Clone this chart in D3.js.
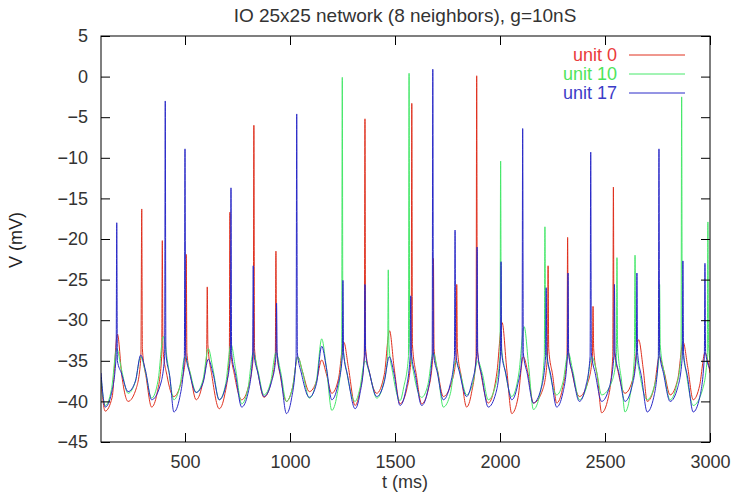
<!DOCTYPE html>
<html>
<head>
<meta charset="utf-8">
<script src="https://cdn.jsdelivr.net/npm/d3@7"></script>
<style>
  html, body { margin: 0; padding: 0; background: #fff; }
  svg { display: block; }
  text { font-family: "Liberation Sans", Arial, Helvetica, sans-serif; fill: #333; }
</style>
</head>
<body>
<svg id="chart" width="734" height="494"></svg>
<script>
// Membrane potential traces of three units, [t (ms), V (mV)]
const unit0 = [
  [100,-37.5],[120,-41.2],
  [153,-39.5],[178,-31.7],[200,-37.0],[229,-40.0],
  [269,-38.3],[290,-34.5],[294,-16.3],[297,-33.5],[316,-37.2],[341,-40.7],
  [367,-39.0],[389,-34.5],[392,-20.2],[395,-33.5],[414,-36.8],[447,-39.4],
  [481,-37.7],[503,-34.5],[506,-21.9],[509,-34.0],[528,-37.0],[553,-39.8],
  [581,-38.1],[603,-34.5],[606,-25.9],[609,-33.0],[628,-36.8],[663,-40.9],
  [689,-39.2],[711,-34.5],[714,-16.7],[717,-33.5],[736,-36.8],[770,-39.8],
  [803,-38.1],[825,-34.5],[828,-6.0],[831,-33.5],[850,-36.8],[876,-39.5],
  [908,-37.8],[930,-34.5],[933,-21.5],[936,-33.5],[955,-37.0],[983,-40.0],
  [1012,-38.3],[1037,-34.5],[1059,-36.3],[1092,-38.8],
  [1126,-37.5],[1151,-34.9],[1173,-36.6],[1199,-39.0],
  [1231,-37.2],[1256,-32.7],[1278,-35.8],[1310,-40.5],
  [1332,-38.8],[1354,-34.5],[1357,-5.2],[1360,-33.5],[1379,-36.5],[1413,-39.0],
  [1449,-36.7],[1474,-31.3],[1496,-35.9],[1524,-40.3],
  [1555,-38.6],[1577,-34.5],[1580,-3.3],[1583,-33.0],[1602,-36.8],[1627,-40.3],
  [1658,-38.6],[1680,-34.5],[1683,-22.4],[1686,-33.5],[1705,-36.5],[1730,-39.4],
  [1769,-37.7],[1791,-34.5],[1794,-25.6],[1797,-33.5],[1816,-37.0],[1841,-40.7],
  [1864,-39.0],[1886,-34.5],[1889,0.1],[1892,-33.5],[1911,-36.8],[1944,-40.2],
  [1985,-36.5],[2010,-30.3],[2032,-36.0],[2056,-41.5],
  [2086,-39.5],[2111,-34.5],[2133,-36.5],[2159,-40.2],
  [2204,-38.5],[2226,-34.5],[2229,-23.3],[2232,-33.5],[2251,-36.8],[2270,-40.2],
  [2297,-38.5],[2319,-34.5],[2322,-19.8],[2325,-33.5],[2344,-36.5],[2378,-39.4],
  [2418,-37.7],[2440,-34.5],[2443,-28.3],[2446,-33.5],[2465,-37.2],[2484,-41.4],
  [2515,-39.6],[2537,-34.5],[2540,-13.6],[2543,-33.5],[2562,-36.3],[2595,-39.0],
  [2635,-37.0],[2660,-32.4],[2682,-36.0],[2701,-40.0],
  [2734,-38.3],[2759,-34.5],[2781,-36.3],[2810,-39.2],
  [2847,-37.2],[2872,-32.7],[2894,-35.8],[2920,-39.8],
  [2951,-38.0],[2976,-34.0],[3000,-36.5]
];

const unit10 = [
  [100,-37.0],[120,-40.5],
  [150,-38.5],[175,-33.5],[197,-36.0],[229,-39.0],
  [264,-37.5],[289,-34.5],[311,-36.3],[341,-39.6],
  [372,-37.4],[397,-32.0],[419,-35.5],[447,-39.8],
  [475,-38.2],[500,-34.5],[522,-36.2],[553,-38.9],
  [586,-37.3],[611,-33.5],[633,-36.0],[663,-39.8],
  [694,-37.8],[719,-33.0],[741,-36.0],[770,-40.3],
  [800,-38.4],[825,-34.0],[847,-36.2],[876,-39.2],
  [908,-37.6],[933,-34.0],[955,-36.3],[983,-40.0],
  [1012,-38.3],[1037,-34.5],[1059,-36.3],[1092,-39.6],
  [1126,-37.4],[1151,-32.3],[1173,-35.8],[1199,-41.1],
  [1224,-39.2],[1246,-34.5],[1249,-0.1],[1252,-33.0],[1271,-36.5],[1310,-40.0],
  [1332,-38.5],[1357,-35.0],[1379,-36.6],[1413,-39.6],
  [1443,-38.0],[1465,-34.5],[1468,-23.8],[1471,-33.0],[1490,-36.6],[1524,-39.9],
  [1542,-38.2],[1564,-34.5],[1567,0.4],[1570,-33.0],[1589,-36.5],[1627,-39.5],
  [1657,-37.9],[1682,-34.0],[1704,-36.5],[1730,-40.7],
  [1764,-39.0],[1789,-35.0],[1811,-36.6],[1841,-39.2],
  [1869,-37.9],[1894,-35.0],[1916,-36.6],[1944,-39.8],
  [1978,-38.1],[2000,-34.5],[2003,-10.4],[2006,-33.0],[2025,-36.3],[2056,-39.4],
  [2090,-36.5],[2115,-30.8],[2137,-35.8],[2159,-41.0],
  [2189,-39.2],[2211,-34.5],[2214,-18.5],[2217,-33.0],[2236,-36.3],[2270,-39.2],
  [2300,-37.6],[2325,-34.0],[2347,-36.3],[2378,-39.8],
  [2412,-38.2],[2437,-34.5],[2459,-36.2],[2484,-39.2],
  [2532,-37.6],[2554,-34.5],[2557,-22.3],[2560,-33.0],[2579,-37.5],[2595,-41.3],
  [2618,-39.5],[2640,-34.5],[2643,-22.0],[2646,-33.0],[2665,-36.5],[2701,-39.8],
  [2735,-38.1],[2757,-34.5],[2760,-25.6],[2763,-33.0],[2782,-36.5],[2810,-39.8],
  [2840,-38.1],[2862,-34.5],[2865,-2.5],[2868,-33.0],[2887,-36.5],[2920,-40.5],
  [2965,-38.5],[2987,-34.5],[2990,-17.9],[2993,-33.0],[3000,-35.0]
];

const unit17 = [
  [100,-36.5],[120,-40.7],
  [150,-39.0],[172,-34.5],[175,-18.0],[178,-35.0],[197,-36.5],[229,-38.8],
  [264,-37.5],[289,-34.3],[311,-36.1],[341,-39.8],
  [381,-38.1],[403,-34.5],[406,-3.0],[409,-34.0],[428,-37.0],[447,-41.3],
  [475,-39.5],[497,-34.5],[500,-8.9],[503,-34.0],[522,-36.5],[553,-38.9],
  [586,-37.7],[611,-34.8],[633,-36.5],[663,-39.8],
  [694,-38.1],[716,-34.5],[719,-13.7],[722,-34.0],[741,-36.8],[770,-40.7],
  [800,-39.0],[822,-34.5],[825,-23.3],[828,-34.0],[847,-36.5],[876,-39.4],
  [911,-37.7],[933,-34.5],[936,-27.9],[939,-34.0],[958,-37.2],[983,-41.5],
  [1007,-39.7],[1029,-34.5],[1032,-4.6],[1035,-34.0],[1054,-36.5],[1092,-39.5],
  [1126,-37.8],[1151,-33.2],[1173,-35.8],[1199,-39.8],
  [1227,-38.1],[1249,-34.5],[1252,-25.1],[1255,-34.0],[1274,-36.8],[1310,-40.9],
  [1332,-39.2],[1354,-34.5],[1357,-25.6],[1360,-34.0],[1379,-36.5],[1413,-39.4],
  [1448,-37.7],[1473,-34.5],[1495,-36.5],[1524,-40.5],
  [1550,-38.8],[1572,-34.5],[1575,-27.0],[1578,-34.0],[1597,-36.8],[1627,-40.5],
  [1655,-38.8],[1677,-34.5],[1680,0.9],[1683,-34.0],[1702,-36.5],[1730,-39.8],
  [1761,-38.1],[1783,-34.5],[1786,-18.9],[1789,-34.0],[1808,-36.5],[1841,-39.4],
  [1866,-37.7],[1888,-34.5],[1891,-21.0],[1894,-34.0],[1913,-36.8],[1944,-40.7],
  [1980,-39.0],[2002,-34.5],[2005,-22.8],[2008,-34.0],[2027,-36.5],[2056,-39.8],
  [2083,-38.1],[2105,-34.5],[2108,-6.4],[2111,-34.0],[2130,-36.6],[2159,-40.2],
  [2195,-38.5],[2217,-34.5],[2220,-26.0],[2223,-34.0],[2242,-36.8],[2270,-40.7],
  [2299,-39.0],[2321,-34.5],[2324,-24.2],[2327,-34.0],[2346,-36.6],[2378,-40.0],
  [2407,-38.3],[2429,-34.5],[2432,-9.3],[2435,-34.0],[2454,-36.6],[2484,-40.0],
  [2520,-38.3],[2542,-34.5],[2545,-25.6],[2548,-34.0],[2567,-36.6],[2595,-40.0],
  [2627,-38.3],[2649,-34.5],[2652,-24.2],[2655,-34.0],[2674,-37.0],[2701,-41.3],
  [2732,-39.5],[2754,-34.5],[2757,-8.9],[2760,-34.0],[2779,-36.6],[2810,-40.0],
  [2846,-38.3],[2868,-34.5],[2871,-22.7],[2874,-34.0],[2893,-37.0],[2920,-41.3],
  [2951,-39.5],[2973,-34.5],[2976,-23.0],[2979,-34.0],[3000,-36.0]
];

const seriesNames = ["unit 0", "unit 10", "unit 17"];
const lineColors = ["#e0301e", "#46e86a", "#2a2ac8"];
const labelColors = ["#ea3a3a", "#4ee45a", "#3c3cc8"];

const xTicks = [500, 1000, 1500, 2000, 2500, 3000];
const yTicks = [-45, -40, -35, -30, -25, -20, -15, -10, -5, 0, 5];

const titleText = "IO 25x25 network (8 neighbors), g=10nS";
const xLabel = "t (ms)";
const yLabel = "V (mV)";

// ---- layout ----
const svg = d3.select("#chart");
const plot = { left: 101, right: 710, top: 36, bottom: 442 };
const tickLen = 9;

const x = d3.scaleLinear().domain([100, 3000]).range([plot.left, plot.right]);
const y = d3.scaleLinear().domain([-45, 5]).range([plot.bottom, plot.top]);

svg.append("defs").append("clipPath").attr("id", "plotClip")
  .append("rect")
  .attr("x", plot.left).attr("y", plot.top)
  .attr("width", plot.right - plot.left).attr("height", plot.bottom - plot.top);

// traces, drawn in legend order so unit 17 ends up on top
const line = d3.line()
  .x(d => x(d[0]))
  .y(d => y(d[1]))
  .curve(d3.curveMonotoneX);

const traces = [unit0, unit10, unit17];
const traceG = svg.append("g").attr("clip-path", "url(#plotClip)");
traces.forEach((data, i) => {
  traceG.append("path")
    .datum(data)
    .attr("fill", "none")
    .attr("stroke", lineColors[i])
    .attr("stroke-width", 1)
    .attr("stroke-linejoin", "round")
    .attr("d", line);
});

// axes with inward ticks on all four sides
function styleAxis(g) {
  g.select(".domain").remove();
  g.selectAll(".tick line").attr("stroke", "#000").attr("stroke-width", 1);
  g.selectAll(".tick text")
    .attr("font-size", 18)
    .attr("font-family", "'Liberation Sans', Arial, sans-serif")
    .attr("fill", "#333");
}

svg.append("g")
  .attr("transform", `translate(${plot.left},0)`)
  .call(d3.axisLeft(y).tickValues(yTicks).tickSize(-tickLen).tickPadding(13).tickFormat(d3.format("d")))
  .call(styleAxis);

svg.append("g")
  .attr("transform", `translate(${plot.right},0)`)
  .call(d3.axisRight(y).tickValues(yTicks).tickSize(-tickLen).tickFormat(""))
  .call(styleAxis);

svg.append("g")
  .attr("transform", `translate(0,${plot.bottom})`)
  .call(d3.axisBottom(x).tickValues(xTicks).tickSize(-tickLen).tickPadding(13).tickFormat(d3.format("d")))
  .call(styleAxis);

svg.append("g")
  .attr("transform", `translate(0,${plot.top})`)
  .call(d3.axisTop(x).tickValues(xTicks).tickSize(-tickLen).tickFormat(""))
  .call(styleAxis);

// frame
svg.append("rect")
  .attr("x", plot.left).attr("y", plot.top)
  .attr("width", plot.right - plot.left).attr("height", plot.bottom - plot.top)
  .attr("fill", "none").attr("stroke", "#000").attr("stroke-width", 1);

// title and axis labels
svg.append("text")
  .attr("x", 405).attr("y", 22)
  .attr("text-anchor", "middle")
  .attr("font-size", 19)
  .text(titleText);

svg.append("text")
  .attr("x", 405).attr("y", 488)
  .attr("text-anchor", "middle")
  .attr("font-size", 18)
  .text(xLabel);

svg.append("text")
  .attr("transform", "translate(22,240) rotate(-90)")
  .attr("text-anchor", "middle")
  .attr("font-size", 18)
  .style("fill", "#222")
  .text(yLabel);

// legend
const legend = svg.append("g");
seriesNames.forEach((name, i) => {
  const cy = 55 + i * 19;
  legend.append("text")
    .attr("x", 617).attr("y", cy)
    .attr("dy", "0.35em")
    .attr("text-anchor", "end")
    .attr("font-size", 18)
    .style("fill", labelColors[i])
    .text(name);
  legend.append("line")
    .attr("x1", 629).attr("x2", 685)
    .attr("y1", cy).attr("y2", cy)
    .attr("stroke", lineColors[i])
    .attr("stroke-width", 1);
});
</script>
</body>
</html>
